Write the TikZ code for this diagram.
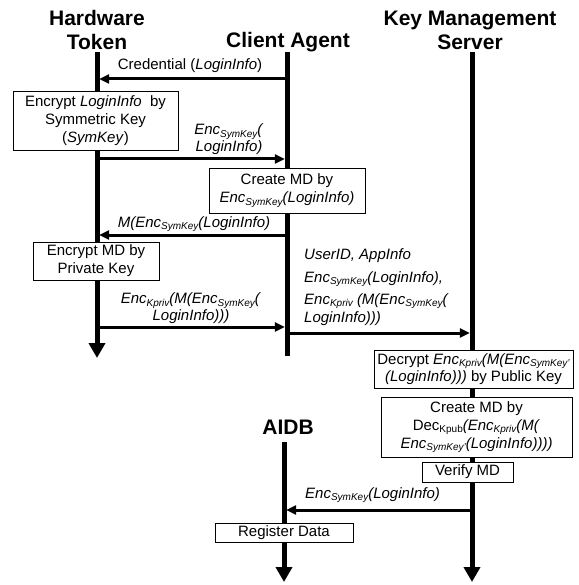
\documentclass[tikz,border=0pt]{standalone}
\usepackage{fontspec}
\setmainfont{Liberation Sans}
\usetikzlibrary{arrows.meta}
% small lowered index used in Enc/Dec terms
\newcommand\sbs[1]{\raisebox{-0.3ex}{\fontsize{10}{10}\selectfont #1}}
\tikzset{
  title/.style={font=\fontsize{21}{24}\selectfont\bfseries, align=center, inner sep=0pt},
  lifeline/.style={line width=5pt},
  lifearrow/.style={lifeline, -{Triangle[length=15pt,width=16pt]}},
  msg/.style={line width=3pt, -{Triangle[length=10pt,width=9pt]}, shorten >=2.2pt},
  actbox/.style={draw, line width=0.9pt, fill=white, align=center, inner sep=0pt,
    font=\fontsize{15}{18}\selectfont},
  lbl/.style={align=center, inner sep=0pt, font=\fontsize{15}{16.5}\selectfont},
  lbll/.style={anchor=west, inner sep=0pt, font=\fontsize{15}{16.5}\selectfont}
}
\begin{document}
\begin{tikzpicture}[x=1pt,y=-1pt]
\useasboundingbox (0,0) rectangle (578,585);

% participants
\node[title] (hwT)  at (97,30)  {Hardware\\Token};
\node[title] (caT)  at (288,42) {Client Agent};
\node[title] (kmsT) at (470,30) {Key Management\\Server};
\node[title] (dbT)  at (288,427) {AIDB};

% lifeline ends
\coordinate (hwTop)  at (97,52);  \coordinate (hwBot)  at (97,358);
\coordinate (caTop)  at (287,52); \coordinate (caBot)  at (287,356);
\coordinate (kmsTop) at (472,52); \coordinate (kmsBot) at (472,582);
\coordinate (dbTop)  at (284,442); \coordinate (dbBot) at (284,582);

\draw[lifearrow] (hwTop) -- (hwBot);
\draw[lifeline]  (caTop) -- (caBot);
\draw[lifearrow] (kmsTop) -- (kmsBot);
\draw[lifearrow] (dbTop) -- (dbBot);

% message end points on the lifelines
\coordinate (ca1) at (287,79);   \coordinate (hw1) at (97,79);
\coordinate (hw2) at (97,159);   \coordinate (ca2) at (287,159);
\coordinate (ca3) at (287,235);  \coordinate (hw3) at (97,235);
\coordinate (hw4) at (97,327);   \coordinate (ca4) at (287,327);
\coordinate (ca5) at (287,333);  \coordinate (kms5) at (472,333);
\coordinate (kms6) at (472,510); \coordinate (db6) at (284,510);

\draw[msg] (ca1) -- (hw1);
\draw[msg] (hw2) -- (ca2);
\draw[msg] (ca3) -- (hw3);
\draw[msg] (hw4) -- (ca4);
\draw[msg] (ca5) -- (kms5);
\draw[msg] (kms6) -- (db6);

% message labels
\node[lbl] (m1) at (190,66) {Credential (\textit{LoginInfo})};
\node[lbl] (m2) at (229,139) {\textit{Enc\sbs{SymKey}(}\\\textit{LoginInfo)}};
\node[lbl] (m3) at (194,224) {\textit{M(Enc\sbs{SymKey}(LoginInfo)}};
\node[lbl] (m4) at (191,308) {\textit{Enc\sbs{Kpriv}(M(Enc\sbs{SymKey}(}\\\textit{LoginInfo)))}};
\node[lbll] (m5a) at (304,256) {\textit{UserID, AppInfo}};
\node[lbll] (m5b) at (304,279) {\textit{Enc\sbs{SymKey}(LoginInfo),}};
\node[lbll] (m5c) at (304,301) {\textit{Enc\sbs{Kpriv} (M(Enc\sbs{SymKey}(}};
\node[lbll] (m5d) at (304,319) {\textit{LoginInfo)))}};
\node[lbll] (m6) at (305,495) {\textit{Enc\sbs{SymKey}(LoginInfo)}};

% activity boxes
\node[actbox, minimum width=165pt, minimum height=59pt] (b1) at (95.5,120.5)
  {Encrypt \textit{LoginInfo}\ \ by\\Symmetric Key\\(\textit{SymKey})};
\node[actbox, minimum width=156pt, minimum height=45pt] (b2) at (287,190.5)
  {Create MD by\\\textit{Enc\sbs{SymKey}(LoginInfo)}};
\node[actbox, minimum width=126pt, minimum height=38pt] (b3) at (96,261)
  {Encrypt MD by\\Private Key};
\node[actbox, minimum width=199pt, minimum height=38pt,
  font=\fontsize{15}{17}\selectfont] (b4) at (473.5,369)
  {Decrypt \textit{Enc\sbs{Kpriv}(M(Enc\sbs{SymKey'}}\\\textit{(LoginInfo)))} by Public Key};
\node[actbox, minimum width=191pt, minimum height=60pt] (b5) at (476.5,427)
  {Create MD by\\Dec\sbs{Kpub}\textit{(Enc\sbs{Kpriv}(M(}\\\textit{Enc\sbs{SymKey'}(LoginInfo))))}};
\node[actbox, minimum width=91pt, minimum height=20pt] (b6) at (467.5,472) {Verify MD};
\node[actbox, minimum width=138pt, minimum height=19pt] (b7) at (284,532.5) {Register Data};
\end{tikzpicture}
\end{document}
